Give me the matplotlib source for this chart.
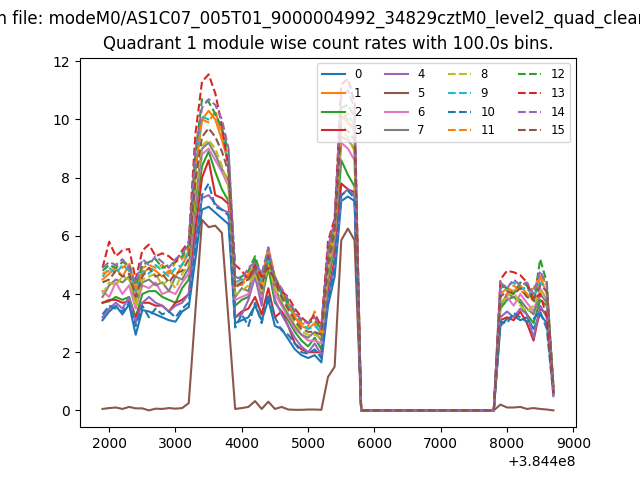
import numpy as np
import matplotlib
matplotlib.use("Agg")
import matplotlib.pyplot as plt

# time bins (s), plotted with the matplotlib offset +3.844e8
t0 = 384400000
times = [t0 + 1900 + 100 * i for i in range(69)]

fname = "modeM0/AS1C07_005T01_9000004992_34829cztM0_level2_quad_clean.evt"
quadrant = 1
binsize = 100.0

gap = [0.0] * 21  # 5800 .. 7800 s, no data

# module wise count rates (counts/s)
m0 = [3.10, 3.40, 3.60, 3.30, 3.65, 2.60, 3.45, 3.40, 3.30, 3.20, 3.10, 3.05, 3.40,
      3.55, 5.20, 6.90, 7.00, 6.80, 6.60, 6.40,
      3.00, 3.10, 3.20, 3.60, 3.10, 3.80, 2.90, 2.80, 2.45, 2.10, 1.90, 1.80, 1.90, 1.65,
      3.60, 4.60, 7.20, 7.35, 7.20] + gap + \
     [2.90, 3.15, 3.25, 3.10, 3.20, 2.80, 3.30, 3.00, 0.55]
m1 = [4.50, 4.70, 4.90, 4.60, 5.00, 4.00, 4.70, 4.90, 4.80, 4.60, 4.80, 4.60, 5.00,
      5.40, 8.20, 10.00, 10.30, 10.00, 9.30, 8.50,
      4.30, 4.40, 4.70, 5.00, 4.30, 5.50, 4.40, 4.00, 3.60, 3.20, 2.90, 2.80, 3.00, 2.60,
      5.20, 6.30, 10.10, 9.90, 9.60] + gap + \
     [4.00, 4.20, 4.10, 4.30, 4.00, 3.80, 4.60, 4.00, 0.85]
m2 = [3.70, 3.75, 3.90, 3.80, 3.90, 3.20, 4.00, 4.10, 4.10, 3.90, 3.80, 3.70, 4.20,
      4.50, 6.80, 8.40, 8.90, 8.20, 7.60, 7.20,
      3.60, 3.80, 3.90, 5.20, 3.80, 4.90, 3.70, 3.40, 3.10, 2.70, 2.40, 2.20, 2.50, 2.10,
      4.40, 5.60, 8.60, 8.10, 7.70] + gap + \
     [3.50, 3.80, 3.90, 3.70, 3.30, 3.00, 3.80, 3.60, 0.70]
m3 = [3.70, 3.80, 3.80, 3.70, 3.75, 3.20, 3.70, 3.70, 3.60, 3.60, 3.40, 3.70, 3.80,
      4.00, 6.20, 8.00, 8.60, 7.40, 7.30, 7.10,
      3.20, 3.40, 3.50, 3.90, 3.30, 4.20, 3.20, 3.40, 2.90, 2.30, 2.10, 2.00, 2.00, 2.00,
      4.00, 5.20, 7.80, 7.60, 7.50] + gap + \
     [3.10, 3.20, 3.10, 3.40, 3.00, 2.40, 3.50, 3.30, 0.60]
m4 = [3.20, 3.50, 3.70, 3.50, 3.90, 3.00, 3.70, 3.90, 3.70, 3.60, 3.40, 3.60, 3.70,
      4.00, 5.80, 7.30, 7.40, 7.10, 6.90, 6.80,
      3.20, 3.30, 3.80, 4.60, 3.60, 5.60, 3.80, 3.30, 2.90, 2.50, 2.20, 2.00, 2.30, 1.90,
      3.90, 5.00, 7.40, 7.60, 7.40] + gap + \
     [3.20, 3.40, 3.20, 3.50, 3.30, 2.50, 3.60, 3.20, 0.65]
m5 = [0.05, 0.08, 0.10, 0.05, 0.12, 0.07, 0.07, 0.00, 0.06, 0.05, 0.08, 0.06, 0.08,
      0.25, 3.40, 6.55, 6.30, 6.35, 6.10, 3.10,
      0.05, 0.08, 0.12, 0.32, 0.05, 0.30, 0.05, 0.12, 0.03, 0.02, 0.02, 0.03, 0.03, 0.02,
      1.15, 1.50, 5.85, 6.25, 5.85] + gap + \
     [0.20, 0.10, 0.10, 0.12, 0.05, 0.08, 0.05, 0.03, 0.00]
m6 = [4.10, 3.90, 4.40, 4.00, 4.30, 3.50, 4.30, 4.20, 4.40, 4.00, 4.10, 4.00, 4.40,
      4.70, 7.10, 8.80, 9.00, 8.60, 8.20, 7.70,
      3.80, 3.90, 4.00, 4.80, 3.90, 5.40, 4.00, 3.60, 3.20, 2.80, 2.60, 2.40, 2.40, 2.30,
      4.60, 5.90, 9.20, 9.00, 8.60] + gap + \
     [3.70, 3.90, 3.60, 4.00, 3.70, 3.40, 4.20, 3.80, 0.75]
m7 = [3.90, 4.30, 4.50, 4.40, 4.60, 3.70, 4.40, 4.50, 4.30, 4.40, 4.10, 4.60, 4.50,
      4.90, 7.30, 9.00, 9.20, 8.80, 8.30, 7.90,
      3.90, 4.20, 4.10, 4.90, 4.00, 5.10, 4.20, 3.70, 3.30, 2.90, 2.60, 2.50, 2.70, 2.40,
      4.70, 6.00, 9.40, 9.30, 9.00] + gap + \
     [3.60, 4.00, 3.90, 3.80, 3.50, 3.30, 4.00, 3.70, 0.70]
m8 = [4.00, 4.40, 4.30, 4.60, 4.50, 3.60, 4.50, 4.60, 4.70, 4.30, 4.50, 4.20, 4.70,
      5.00, 7.50, 9.10, 9.30, 9.00, 8.40, 7.70,
      4.00, 4.10, 4.30, 4.70, 4.10, 5.00, 4.20, 3.80, 3.40, 3.00, 2.70, 2.60, 2.60, 2.50,
      4.80, 6.10, 9.60, 9.40, 8.90] + gap + \
     [3.70, 3.90, 4.10, 3.60, 3.40, 3.60, 4.10, 3.90, 0.80]
m9 = [4.60, 4.90, 4.70, 5.00, 4.80, 4.10, 4.80, 4.70, 5.00, 4.80, 4.60, 4.90, 5.00,
      5.50, 8.30, 10.10, 10.00, 10.20, 9.60, 8.40,
      4.40, 4.50, 4.50, 5.10, 4.40, 5.20, 4.50, 4.00, 3.60, 3.30, 3.00, 2.80, 2.90, 2.70,
      5.30, 6.40, 10.20, 10.00, 9.70] + gap + \
     [4.20, 4.30, 4.40, 4.20, 4.20, 3.90, 4.40, 4.20, 0.80]
m10 = [3.30, 3.60, 3.50, 3.40, 3.70, 2.90, 3.60, 3.20, 3.50, 3.30, 3.40, 3.20, 3.50,
       3.70, 5.60, 7.40, 7.80, 7.00, 6.90, 6.70,
       2.85, 3.30, 2.90, 3.70, 3.00, 4.00, 3.20, 2.75, 2.60, 2.30, 2.00, 1.95, 2.10, 1.80,
       3.80, 4.90, 7.40, 7.55, 7.30] + gap + \
      [3.05, 3.00, 3.35, 3.20, 3.05, 3.15, 3.40, 2.80, 0.50]
m11 = [4.70, 4.80, 5.00, 4.90, 5.10, 4.20, 4.90, 5.00, 4.90, 5.00, 4.70, 5.10, 5.20,
       5.60, 8.40, 10.00, 9.90, 10.30, 9.50, 8.60,
       4.40, 4.30, 4.60, 5.00, 4.50, 5.60, 4.60, 4.10, 3.70, 3.30, 3.00, 2.90, 3.40, 2.70,
       5.40, 6.30, 10.00, 10.20, 9.80] + gap + \
      [4.10, 4.00, 4.30, 4.10, 4.00, 4.20, 4.70, 4.30, 0.75]
m12 = [4.80, 5.00, 4.90, 5.10, 5.00, 4.30, 5.00, 5.10, 5.20, 4.90, 5.00, 5.10, 5.30,
       5.70, 8.80, 10.70, 10.60, 10.20, 9.70, 8.90,
       4.50, 4.60, 4.80, 5.30, 4.60, 5.40, 4.60, 4.10, 3.70, 3.40, 3.10, 3.00, 3.10, 2.80,
       5.50, 6.40, 10.40, 10.50, 10.10] + gap + \
      [4.30, 4.20, 4.00, 4.40, 4.30, 3.70, 5.20, 4.40, 0.70]
m13 = [4.90, 5.80, 5.30, 5.50, 5.55, 4.50, 5.50, 5.70, 5.30, 5.40, 5.30, 5.10, 5.50,
       5.80, 9.50, 11.30, 11.55, 10.90, 9.80, 8.30,
       5.00, 4.80, 4.50, 5.00, 4.60, 4.90, 4.50, 4.10, 3.90, 3.50, 3.20, 3.00, 3.30, 2.90,
       5.80, 6.60, 11.20, 11.40, 10.60] + gap + \
      [4.50, 4.80, 4.75, 4.65, 4.40, 3.80, 4.00, 3.20, 0.60]
m14 = [4.90, 5.10, 5.00, 5.20, 4.90, 4.40, 5.20, 5.00, 5.30, 5.10, 4.90, 5.20, 5.40,
       5.70, 8.90, 10.40, 10.70, 10.50, 10.00, 9.00,
       4.60, 4.50, 4.90, 5.10, 4.70, 5.60, 4.50, 4.20, 3.80, 3.40, 3.10, 3.00, 3.20, 2.80,
       5.60, 6.50, 10.80, 11.00, 10.40] + gap + \
      [4.40, 4.20, 4.50, 4.30, 4.40, 4.00, 4.80, 4.30, 0.45]
m15 = [4.40, 4.50, 4.80, 4.60, 4.70, 3.90, 4.60, 4.90, 4.60, 4.70, 4.40, 4.70, 4.80,
       5.20, 7.90, 9.40, 9.70, 9.40, 8.90, 8.20,
       4.20, 4.40, 4.50, 4.90, 4.20, 5.30, 4.40, 3.90, 3.50, 3.10, 2.80, 2.70, 2.70, 2.60,
       5.00, 6.20, 9.80, 9.60, 9.30] + gap + \
      [3.90, 4.10, 4.00, 4.20, 3.90, 3.80, 4.30, 4.10, 0.80]

rates = [m0, m1, m2, m3, m4, m5, m6, m7, m8, m9, m10, m11, m12, m13, m14, m15]

fig = plt.figure(figsize=(6.4, 4.8), dpi=100)
for mod, rate in enumerate(rates):
    ls = '-' if mod < 8 else '--'
    plt.plot(times, rate, ls, label=str(mod))

plt.legend(loc='upper right', ncol=4, fontsize='small')
plt.title("Quadrant {} module wise count rates with {}s bins.".format(quadrant, binsize))
plt.suptitle("Clean file: " + fname)
plt.savefig("out.png")
